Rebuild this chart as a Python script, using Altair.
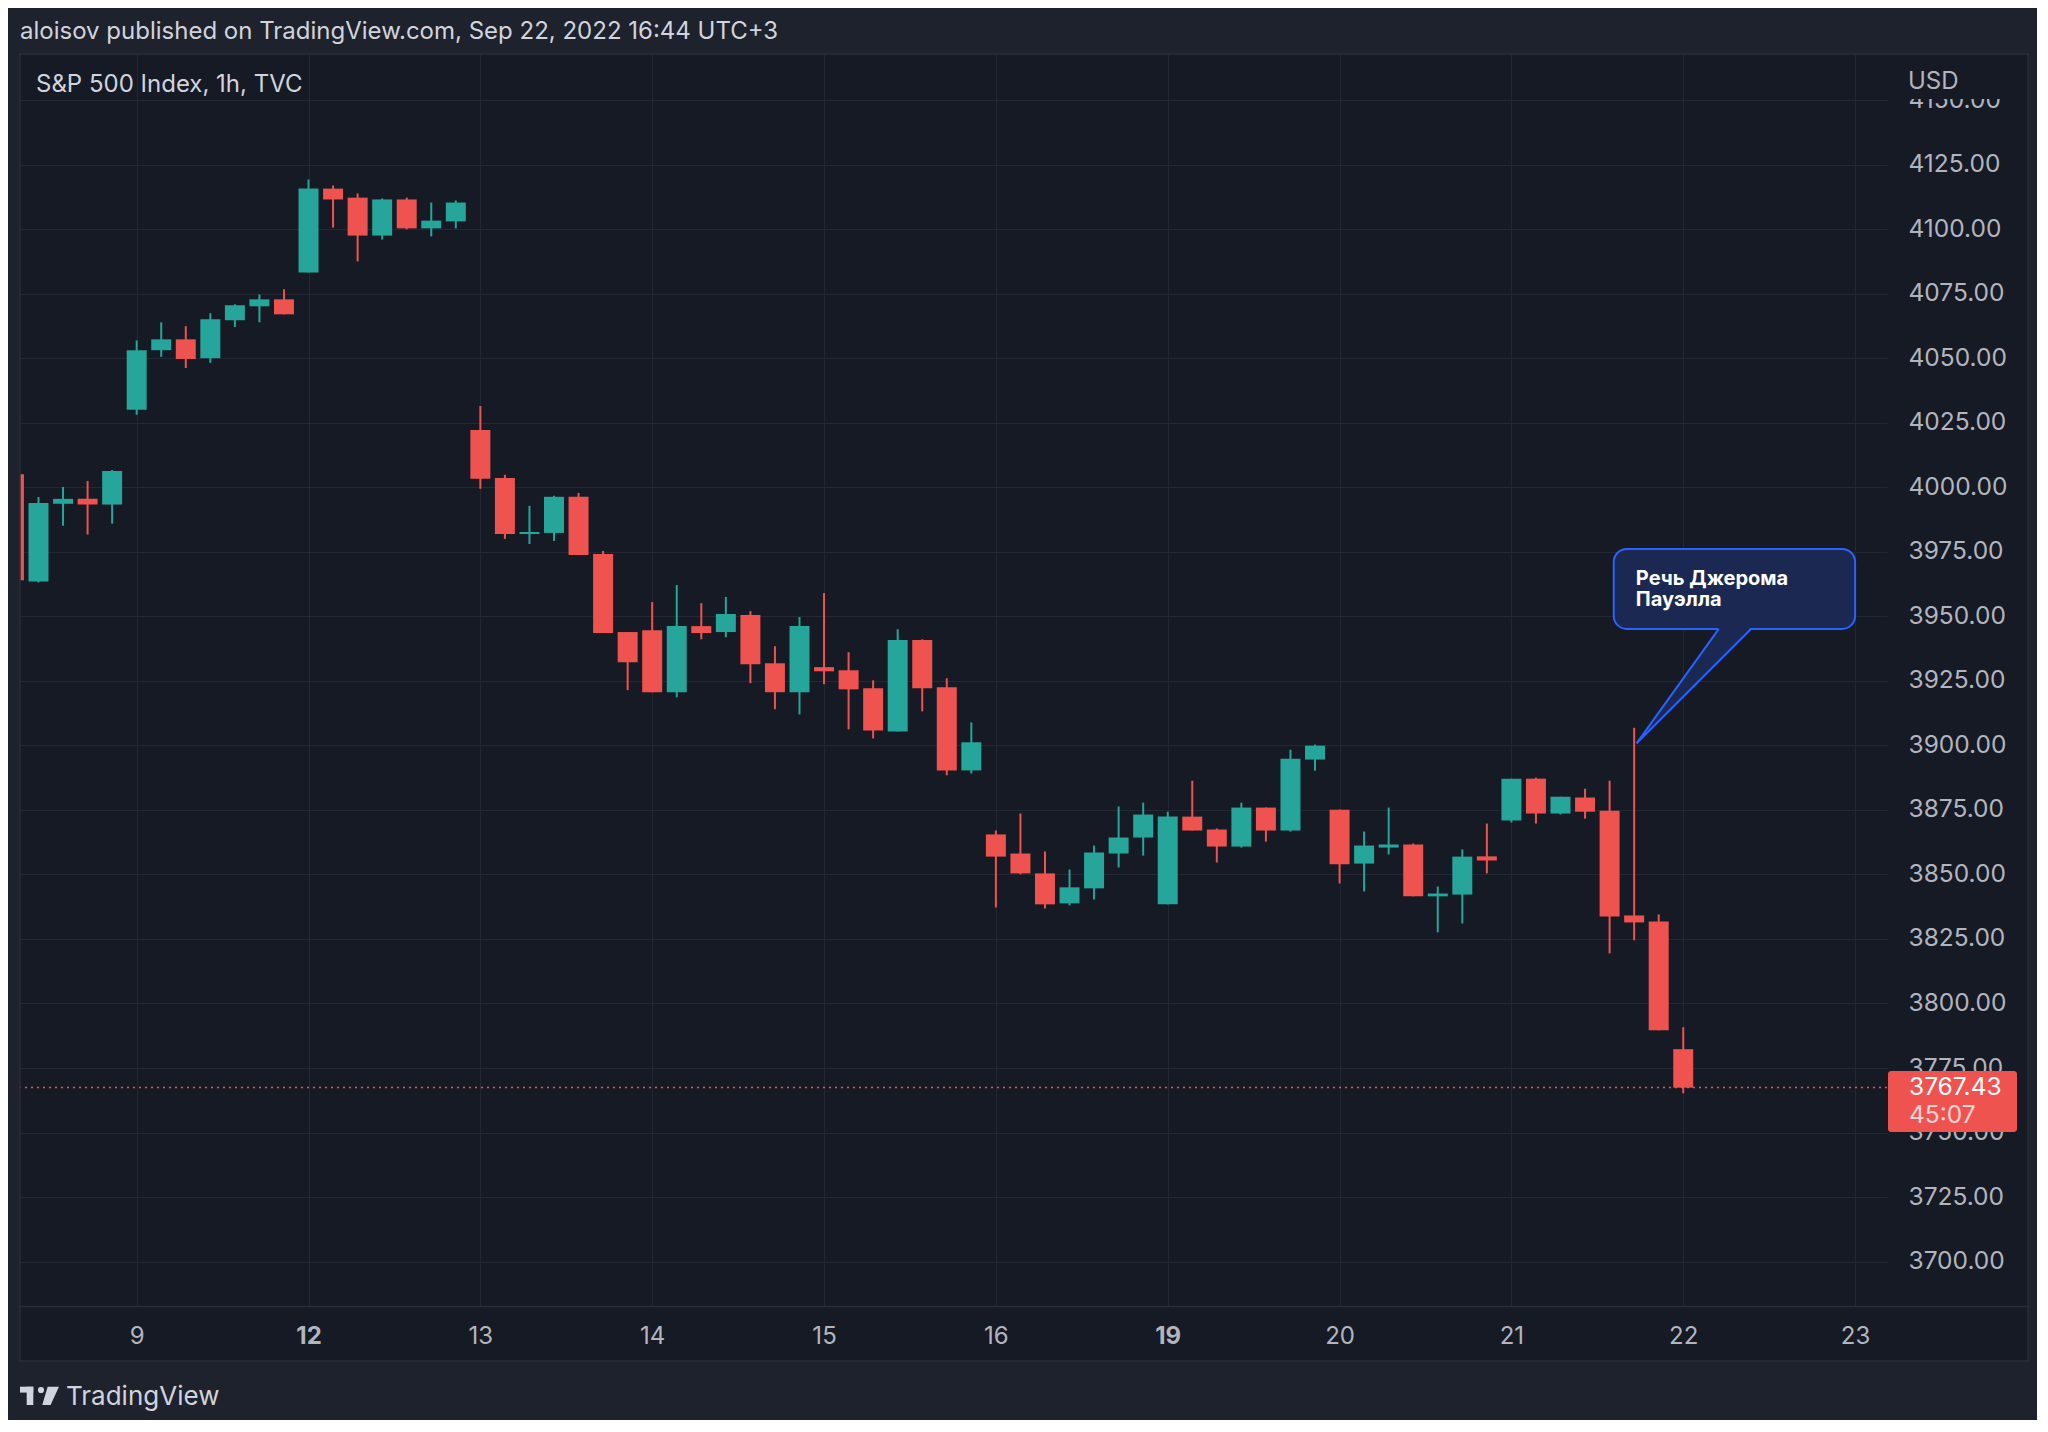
import altair as alt
import pandas as pd

# ---------------- data (hourly candles, index 0 = Sep 8 first session hour, 7 per session)
candle_idx = list(range(2, 71))
opens = [4005.0, 3963.5, 3993.6, 3995.5, 3993.3,
         4030.0, 4053.1, 4057.3, 4050.0, 4064.7, 4070.1, 4072.8,
         4083.2, 4115.7, 4112.2, 4097.5, 4111.5, 4100.3, 4103.0,
         4022.2, 4003.6, 3981.9, 3982.3, 3996.3, 3974.1, 3943.9,
         3944.6, 3920.6, 3946.2, 3943.9, 3950.5, 3931.8, 3920.6,
         3930.3, 3929.1, 3922.1, 3905.4, 3940.8, 3922.5, 3890.3,
         3865.5, 3858.1, 3850.4, 3838.8, 3844.6, 3858.1, 3864.3,
         3838.4, 3872.4, 3867.4, 3860.8, 3875.9, 3867.0, 3894.5,
         3875.1, 3854.2, 3860.4, 3861.6, 3841.5, 3842.2, 3857.0,
         3870.9, 3887.1, 3873.6, 3879.8, 3874.7, 3834.1, 3831.8,
         3782.3]
highs = [4005.5, 3996.2, 4000.1, 4002.4, 4006.7,
         4056.9, 4063.9, 4062.4, 4067.4, 4070.9, 4074.7, 4076.7,
         4119.2, 4116.9, 4113.8, 4111.9, 4112.2, 4110.3, 4111.1,
         4031.5, 4004.8, 3992.8, 3996.7, 3997.8, 3975.3, 3943.9,
         3955.5, 3962.1, 3955.1, 3957.5, 3952.0, 3938.4, 3949.7,
         3959.0, 3936.1, 3925.2, 3945.0, 3941.1, 3926.0, 3908.9,
         3867.0, 3873.6, 3858.9, 3851.9, 3861.2, 3876.3, 3877.8,
         3874.3, 3886.3, 3867.8, 3877.8, 3875.9, 3898.3, 3900.3,
         3875.1, 3866.6, 3875.9, 3862.0, 3845.3, 3859.7, 3869.7,
         3887.1, 3887.5, 3880.1, 3883.2, 3886.3, 3906.8, 3834.5,
         3790.8]
lows = [3963.5, 3963.1, 3985.1, 3981.7, 3985.9,
        4028.1, 4050.5, 4046.2, 4048.2, 4062.1, 4063.9, 4067.0,
        4083.2, 4100.6, 4087.5, 4096.0, 4099.9, 4097.2, 4100.3,
        3999.4, 3980.0, 3978.0, 3979.2, 3973.8, 3943.5, 3921.4,
        3920.6, 3918.6, 3941.1, 3941.9, 3924.1, 3914.0, 3912.0,
        3923.7, 3906.2, 3902.7, 3905.4, 3913.2, 3888.4, 3889.1,
        3837.2, 3850.0, 3836.8, 3838.0, 3840.3, 3852.7, 3857.3,
        3838.4, 3867.0, 3854.6, 3860.4, 3862.7, 3866.6, 3890.2,
        3846.5, 3843.4, 3857.7, 3841.5, 3827.6, 3831.0, 3850.4,
        3870.1, 3869.7, 3873.2, 3871.6, 3819.4, 3824.5, 3789.6,
        3765.2]
closes = [3964.0, 3993.9, 3995.5, 3993.3, 4006.3,
          4053.1, 4057.3, 4049.7, 4065.1, 4070.5, 4072.8, 4067.0,
          4115.7, 4111.5, 4097.5, 4111.5, 4100.3, 4103.3, 4110.3,
          4003.3, 3981.9, 3982.7, 3996.3, 3973.8, 3943.5, 3932.2,
          3920.6, 3946.2, 3943.5, 3950.9, 3931.4, 3920.6, 3946.2,
          3928.7, 3921.7, 3905.8, 3940.8, 3922.1, 3890.3, 3901.2,
          3856.9, 3850.4, 3838.4, 3845.0, 3858.5, 3864.3, 3873.2,
          3872.4, 3867.0, 3860.8, 3875.9, 3867.0, 3894.8, 3899.9,
          3853.9, 3861.2, 3861.6, 3841.5, 3842.6, 3856.9, 3855.4,
          3887.1, 3873.6, 3880.1, 3874.3, 3833.7, 3831.4, 3789.6,
          3767.4]

day_ticks = [7, 14, 21, 28, 35, 42, 49, 56, 63, 70, 77]
day_labels = ["9", "12", "13", "14", "15", "16", "19", "20", "21", "22", "23"]
week_start_ticks = [14, 49]
price_ticks = list(range(3700, 4151, 25))

last_price = 3767.43
countdown = "45:07"

header_text = "aloisov published on TradingView.com, Sep 22, 2022 16:44 UTC+3"
legend_text = "S&P 500 Index, 1h, TVC"
currency_text = "USD"
brand_text = "TradingView"

callout_lines = ["Речь Джерома", "Пауэлла"]
callout_box_x = [67.17, 77.0]
callout_box_y = [3945.1, 3976.1]
callout_tip = [68.1, 3900.8]
callout_base_x = [71.45, 72.76]

# ---------------- styles
BG = "#161a25"
FRAME = "#1e222d"
BORDER = "#2a2e39"
GRID = "#232733"
UP = "#26a69a"
DOWN = "#ef5350"
AXIS_TXT = "#b2b5be"
TXT = "#d1d4dc"
FONT = "Inter"
CALLOUT_FILL = "#1b2852"
CALLOUT_STROKE = "#2962ff"

W, H = 1867, 1252
xs = alt.Scale(domain=[2.247, 78.3], nice=False, zero=False)
ys = alt.Scale(domain=[3682.8, 4167.85], nice=False, zero=False)

label_expr = " : ".join(f"datum.value == {t} ? '{l}'" for t, l in zip(day_ticks, day_labels)) + " : ''"
bold_test = " || ".join(f"datum.value == {t}" for t in week_start_ticks)

x_axis = alt.Axis(values=day_ticks, labelExpr=label_expr, grid=True, gridColor=GRID, gridWidth=1,
                  domain=False, ticks=False, tickSize=0, labelPadding=30, labelBaseline="middle",
                  labelFontSize=24, labelColor=AXIS_TXT, labelFont=FONT, title=None,
                  labelOverlap=False, labelFlush=False, zindex=0,
                  labelFontWeight={"condition": {"test": bold_test, "value": "bold"}, "value": "normal"})
y_axis = alt.Axis(orient="right", values=price_ticks, format=".2f", grid=True, gridColor=GRID, gridWidth=1,
                  domain=False, ticks=False, tickSize=0, labelPadding=21, labelAlign="left",
                  labelBaseline="middle", labelFontSize=24.5, labelColor=AXIS_TXT, labelFont=FONT,
                  title=None, labelOverlap=False, labelFlush=False, zindex=0)

df = pd.DataFrame({"i": candle_idx, "open": opens, "high": highs, "low": lows, "close": closes})
df["dir"] = ["up" if c >= o else "down" for o, c in zip(opens, closes)]
df["xl"] = df["i"] - 0.407
df["xr"] = df["i"] + 0.407

color = alt.Color("dir:N", scale=alt.Scale(domain=["up", "down"], range=[UP, DOWN]), legend=None)

wicks = alt.Chart(df).mark_rule(strokeWidth=2, clip=True).encode(
    x=alt.X("i:Q", scale=xs, axis=x_axis),
    y=alt.Y("low:Q", scale=ys, axis=y_axis),
    y2="high:Q",
    color=color,
)
bodies = alt.Chart(df).mark_rect(clip=True).encode(
    x=alt.X("xl:Q", scale=xs, axis=x_axis),
    x2="xr:Q",
    y=alt.Y("open:Q", scale=ys, axis=y_axis),
    y2="close:Q",
    color=color,
)

pdf = pd.DataFrame({"p": [last_price], "t": [f"{last_price:.2f}"], "c": [countdown]})
price_line = alt.Chart(pdf).mark_rule(strokeDash=[2, 4], strokeWidth=1.6, color=DOWN).encode(
    y=alt.Y("p:Q", scale=ys, axis=y_axis))

# ---------------- callout
box_df = pd.DataFrame({"x": [callout_box_x[0]], "x2": [callout_box_x[1]],
                       "y": [callout_box_y[0]], "y2": [callout_box_y[1]]})
callout_box = alt.Chart(box_df).mark_rect(cornerRadius=13, fill=CALLOUT_FILL, stroke=CALLOUT_STROKE,
                                          strokeWidth=2).encode(
    x=alt.X("x:Q", scale=xs, axis=x_axis), x2="x2:Q",
    y=alt.Y("y:Q", scale=ys, axis=y_axis), y2="y2:Q")

tx, ty = callout_tip
ax, bx = callout_base_x
base_y = callout_box_y[0]
lower_at_a = ty + (ax - tx) / (bx - tx) * (base_y - ty)
ptr_df = pd.DataFrame({"x": [tx, ax, bx], "yt": [ty, base_y + 0.7, base_y + 0.7],
                       "yb": [ty, lower_at_a, base_y + 0.7]})
pointer = alt.Chart(ptr_df).mark_area(fill=CALLOUT_FILL, opacity=1, interpolate="linear").encode(
    x=alt.X("x:Q", scale=xs, axis=x_axis),
    y=alt.Y("yt:Q", scale=ys, axis=y_axis), y2="yb:Q")
edge_df = pd.DataFrame({"x": [tx, tx], "x2": [ax, bx], "y": [ty, ty], "y2": [base_y, base_y]})
edges = alt.Chart(edge_df).mark_rule(color=CALLOUT_STROKE, strokeWidth=2).encode(
    x=alt.X("x:Q", scale=xs, axis=x_axis), x2="x2:Q",
    y=alt.Y("y:Q", scale=ys, axis=y_axis), y2="y2:Q")
text_df = pd.DataFrame({"x": [68.07, 68.07], "y": [3964.4, 3956.3], "t": callout_lines})
callout_text = alt.Chart(text_df).mark_text(align="left", baseline="middle", fontSize=20, fontWeight="bold",
                                            color="#ffffff", font=FONT).encode(
    x=alt.X("x:Q", scale=xs, axis=x_axis),
    y=alt.Y("y:Q", scale=ys, axis=y_axis), text="t:N")

# ---------------- chrome (frame around the chart panel)
one = pd.DataFrame({"a": [0]})
def strip(x0, x1, y0, y1, fill):
    return alt.Chart(one).mark_rect(fill=fill).encode(
        x=alt.value(x0), x2=alt.value(x1), y=alt.value(y0), y2=alt.value(y1))

frame = alt.layer(
    strip(-20, 2040, -60, 0, FRAME),
    strip(-20, 0, -60, 1400, FRAME),
    strip(2008, 2040, -60, 1400, FRAME),
    strip(-20, 2040, 1307, 1400, FRAME),
    strip(1869, 2006, 1, 45, BG),
)
border = alt.Chart(one).mark_rect(fillOpacity=0, stroke=BORDER, strokeWidth=1.5).encode(
    x=alt.value(0), x2=alt.value(2008), y=alt.value(0), y2=alt.value(1307))
separator = alt.Chart(one).mark_rule(color=BORDER, strokeWidth=1.5).encode(
    x=alt.value(0), x2=alt.value(2008), y=alt.value(1252.5))

price_box = alt.Chart(pdf).mark_rect(fill=DOWN, cornerRadius=3, yOffset=-16.5, y2Offset=44.5).encode(
    x=alt.value(1868), x2=alt.value(1997),
    y=alt.Y("p:Q", scale=ys, axis=y_axis), y2="p:Q")
price_txt = alt.Chart(pdf).mark_text(align="left", baseline="middle", fontSize=24.5, color="#ffffff",
                                     font=FONT).encode(
    x=alt.value(1889), y=alt.Y("p:Q", scale=ys, axis=y_axis), text="t:N")
count_txt = alt.Chart(pdf).mark_text(align="left", baseline="middle", fontSize=24.5, color="#ffffff",
                                     opacity=0.75, dy=28, font=FONT).encode(
    x=alt.value(1889), y=alt.Y("p:Q", scale=ys, axis=y_axis), text="c:N")

def label(txt, x, y, size, col, weight="normal"):
    return alt.Chart(pd.DataFrame({"t": [txt]})).mark_text(
        align="left", baseline="middle", fontSize=size, color=col, font=FONT, fontWeight=weight).encode(
        x=alt.value(x), y=alt.value(y), text="t:N")

# TradingView logo mark (T-shape, dot, slanted bar)
LOGO = "#d1d4dc"
logo = alt.layer(
    strip(0, 13.3, 1332.7, 1338.6, LOGO),
    strip(6.7, 13.3, 1332.7, 1351, LOGO),
    alt.Chart(one).mark_circle(size=38, color=LOGO, opacity=1).encode(
        x=alt.value(21), y=alt.value(1336)),
    alt.Chart(one).mark_point(shape="M -0.32 -1 L 0.91 -1 L 0.0 1 L -0.91 1 Z", size=335,
                              filled=True, color=LOGO, opacity=1, strokeWidth=0).encode(
        x=alt.value(30.6), y=alt.value(1341.9)),
)

texts = alt.layer(
    label(header_text, 0, -22, 24, TXT),
    label(legend_text, 16, 31, 24, TXT),
    label(currency_text, 1888, 28, 24, AXIS_TXT),
    label(brand_text, 46, 1343, 26, TXT),
)

chart = alt.layer(
    wicks, bodies, price_line, callout_box, pointer, edges, callout_text,
    frame, border, separator, price_box, price_txt, count_txt, logo, texts,
).properties(
    width=W, height=H, background=BG,
    padding={"left": 12, "top": 46, "right": 150, "bottom": 114},
    autosize=alt.AutoSizeParams(type="none"),
).configure(font=FONT).configure_view(stroke=None)

chart.save("out.html", embed_options={"renderer": "svg", "actions": False})
